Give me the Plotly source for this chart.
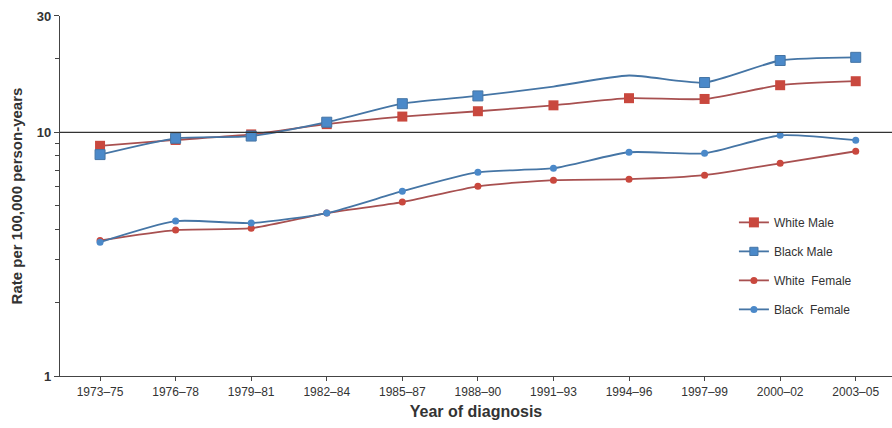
import plotly.graph_objects as go

periods = ["1973–75", "1976–78", "1979–81", "1982–84", "1985–87", "1988–90",
           "1991–93", "1994–96", "1997–99", "2000–02", "2003–05"]
white_male = [8.8, 9.3, 9.8, 10.8, 11.6, 12.2, 12.9, 13.8, 13.7, 15.6, 16.2]
black_male = [8.1, 9.45, 9.65, 11.0, 13.1, 14.1, 15.4, 17.1, 16.0, 19.7, 20.3]
white_female = [3.6, 3.97, 4.04, 4.66, 5.17, 6.0, 6.36, 6.42, 6.67, 7.46, 8.36]
black_female = [3.54, 4.32, 4.24, 4.66, 5.73, 6.86, 7.12, 8.28, 8.2, 9.72, 9.28]
# periods where the Black Male marker is not drawn in the original
black_male_no_marker = ["1991–93", "1994–96"]

RED = "#c9483e"
BLUE = "#4b89c9"

bm_sizes = [0 if p in black_male_no_marker else 10 for p in periods]

series = [
    ("White Male", white_male, RED, "square", 10, "#a85050"),
    ("Black Male", black_male, BLUE, "square", bm_sizes, "#4575a5"),
    ("White  Female", white_female, RED, "circle", 7, "#a85050"),
    ("Black  Female", black_female, BLUE, "circle", 7, "#4575a5"),
]

fig = go.Figure()
for i, (name, vals, col, sym, sz, lcol) in enumerate(series):
    fig.add_trace(go.Scatter(
        x=list(range(len(periods))), y=vals, name=name, mode="lines+markers",
        line=dict(color=lcol, width=1.8, shape="spline", smoothing=0.6),
        marker=dict(color=col, symbol=sym, size=sz, opacity=1),
        legendgroup=f"g{i}",
    ))

fig.add_hline(y=10, line=dict(color="#333333", width=1.2))

fig.update_layout(
    width=892, height=428,
    margin=dict(l=60, r=0, t=16, b=52),
    paper_bgcolor="white", plot_bgcolor="white",
    font=dict(family="Liberation Sans, Arial, sans-serif", color="#333333"),
    showlegend=True,
    legend=dict(x=0.81, y=0.467, xanchor="left", yanchor="top",
                font=dict(size=12, color="#333333"),
                traceorder="grouped", tracegroupgap=10, itemwidth=30,
                bgcolor="rgba(0,0,0,0)"),
    xaxis=dict(
        range=[-0.53, 10.48], tickmode="array",
        tickvals=list(range(len(periods))), ticktext=periods,
        tickson="boundaries", ticks="outside", ticklen=4,
        showline=True, linecolor="#444444", linewidth=1.2,
        showgrid=False, zeroline=False,
        tickfont=dict(size=12, color="#333333"),
        title=dict(text="<b>Year of diagnosis</b>", font=dict(size=16, color="#333333"), standoff=8),
    ),
    yaxis=dict(
        type="log", range=[0, 1.4771],
        tickmode="array", tickvals=[1, 10, 30], ticktext=["<b>1</b>", "<b>10</b>", "<b>30</b>"],
        ticks="outside", ticklen=5,
        minor=dict(tickmode="array", tickvals=[2, 3, 4, 5, 6, 7, 8, 9, 20],
                   ticks="outside", ticklen=4, tickcolor="#444444"),
        showline=True, linecolor="#444444", linewidth=1.2,
        showgrid=False, zeroline=False,
        tickfont=dict(size=13, color="#333333"),
        title=dict(text="<b>Rate per 100,000 person-years</b>", font=dict(size=15, color="#333333"), standoff=10),
    ),
)

fig.write_html("out.html")
